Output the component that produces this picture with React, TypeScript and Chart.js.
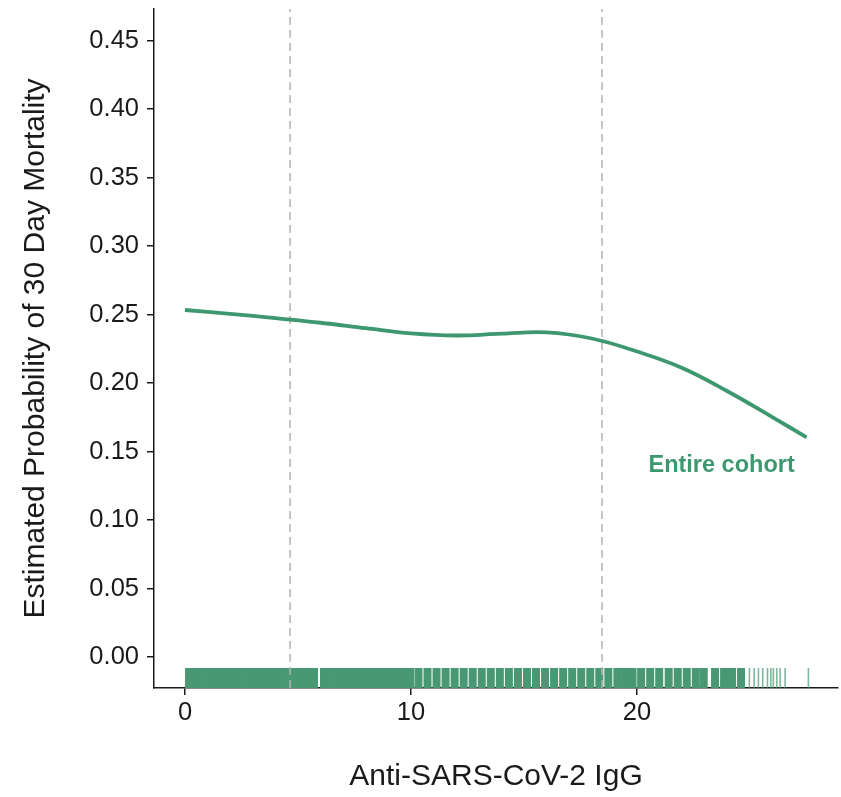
import React, { useEffect, useRef } from "react";
import { Chart, registerables } from "chart.js";
Chart.register(...registerables);

// ---- data ----
const curveX = [0, 2, 4, 6, 8, 10, 12, 14, 16, 18, 20, 22, 24, 26, 27.5];
const curveY = [0.2533, 0.2505, 0.2473, 0.244, 0.24, 0.2362, 0.2347, 0.236, 0.237, 0.2325, 0.223, 0.211, 0.194, 0.175, 0.1604];

const rugDense = [0.18, 0.4, 0.6, 0.8, 1.0, 1.2, 1.4, 1.6, 1.8, 2.0, 2.2, 2.4, 2.6, 2.8, 3.0, 3.2, 3.4, 3.6, 3.8, 4.0, 4.2, 4.4, 4.6, 4.8, 5.0, 5.2, 5.4, 5.6, 5.71,
  6.15, 6.4, 6.6, 6.8, 7.0, 7.2, 7.4, 7.6, 7.8, 8.0, 8.2, 8.4, 8.6, 8.8, 9.0, 9.2, 9.4, 9.6, 9.8, 9.96];
const rugWide = [10.33, 10.73, 11.13, 11.53, 11.93, 12.33, 12.73, 13.13, 13.53, 13.93, 14.33, 14.73, 15.13, 15.53, 15.93, 16.33, 16.73,
  17.13, 17.53, 17.93, 18.33, 18.73, 19.13, 19.47, 19.8, 20.18, 20.58, 20.98, 21.4, 21.8, 22.2, 22.6, 22.95, 23.45, 23.85, 24.2, 24.6];
const rugThin = [24.97, 25.18, 25.37, 25.56, 25.77, 25.92, 26.03, 26.18, 26.33, 26.55, 27.58];
const rugLevel = -0.0153;

const cutpoints = [4.65, 18.45];

const xTicks = [0, 10, 20];
const yTicks = [0, 0.05, 0.1, 0.15, 0.2, 0.25, 0.3, 0.35, 0.4, 0.45];
const xRange = [-1.37, 28.89];
const yRange = [-0.0226, 0.473];

const xTitle = "Anti-SARS-CoV-2 IgG";
const yTitle = "Estimated Probability of 30 Day Mortality";
const labelText = "Entire cohort";
const labelPos = [23.74, 0.1401];

const FONT = '"Liberation Sans", Arial, Helvetica, sans-serif';
const green = "rgb(62,152,111)";
const rugGreen = "rgb(72,152,115)";
const rugGreenLight = "rgba(72,152,115,0.7)";
const ink = "#1a1a1a";

const labelPlugin = {
  id: "cohortLabel",
  afterDatasetsDraw(chart: any) {
    const { ctx, scales } = chart;
    ctx.save();
    ctx.font = `bold 23.5px ${FONT}`;
    ctx.fillStyle = green;
    ctx.textAlign = "center";
    ctx.textBaseline = "middle";
    ctx.fillText(labelText, scales.x.getPixelForValue(labelPos[0]), scales.y.getPixelForValue(labelPos[1]));
    ctx.restore();
  },
};

export default function App() {
  const ref = useRef<HTMLCanvasElement | null>(null);
  useEffect(() => {
    document.body.style.overflow = "hidden";
    document.documentElement.style.overflow = "hidden";
    if (!ref.current) return;
    const rugPts = (arr: number[]) => arr.map((v) => ({ x: v, y: rugLevel }));
    const rugStyle = {
      type: "scatter",
      pointStyle: "line",
      rotation: 90,
      radius: 10,
      hoverRadius: 10,
    };
    const datasets: any[] = [
      { ...rugStyle, data: rugPts(rugDense), borderWidth: 8, borderColor: rugGreen, backgroundColor: rugGreen, order: 5 },
      { ...rugStyle, data: rugPts(rugWide), borderWidth: 8, borderColor: rugGreen, backgroundColor: rugGreen, order: 4 },
      { ...rugStyle, data: rugPts(rugThin), borderWidth: 1.6, borderColor: rugGreenLight, backgroundColor: rugGreenLight, order: 4 },
      ...cutpoints.map((c) => ({
        type: "line",
        data: [
          { x: c, y: yRange[0] },
          { x: c, y: yRange[1] },
        ],
        borderColor: "#b3b3b3",
        borderWidth: 1.5,
        borderDash: [8, 5],
        pointRadius: 0,
        order: 2,
      })),
      {
        type: "line",
        data: curveX.map((x, i) => ({ x, y: curveY[i] })),
        borderColor: green,
        borderWidth: 3.8,
        pointRadius: 0,
        tension: 0.4,
        fill: false,
        order: 1,
      },
    ];

    const chart = new Chart(ref.current, {
      type: "scatter",
      data: { datasets },
      plugins: [labelPlugin],
      options: {
        animation: false,
        responsive: true,
        maintainAspectRatio: false,
        devicePixelRatio: 1,
        layout: { autoPadding: false, padding: { left: 0, top: 9, right: 3, bottom: 0 } },
        plugins: { legend: { display: false }, tooltip: { enabled: false } },
        scales: {
          x: {
            type: "linear",
            min: xRange[0],
            max: xRange[1],
            afterBuildTicks: (s: any) => {
              s.ticks = xTicks.map((v) => ({ value: v }));
            },
            afterFit: (s: any) => {
              s.height = 109;
              s.paddingLeft = 0;
              s.paddingRight = 0;
            },
            border: { display: true, color: ink, width: 1.5 },
            grid: { display: true, drawOnChartArea: false, drawTicks: true, tickLength: 7, color: ink, lineWidth: 1.5 },
            ticks: { color: ink, font: { family: FONT, size: 25.5 }, padding: 3, maxRotation: 0 },
            title: { display: true, text: xTitle, color: ink, font: { family: FONT, size: 30 }, padding: { top: 0, bottom: 2 } },
          },
          y: {
            type: "linear",
            min: yRange[0],
            max: yRange[1],
            afterBuildTicks: (s: any) => {
              s.ticks = yTicks.map((v) => ({ value: v }));
            },
            afterFit: (s: any) => {
              s.width = 154;
              s.paddingTop = 0;
              s.paddingBottom = 0;
            },
            border: { display: true, color: ink, width: 1.5 },
            grid: { display: true, drawOnChartArea: false, drawTicks: true, tickLength: 7, color: ink, lineWidth: 1.5 },
            ticks: {
              color: ink,
              font: { family: FONT, size: 25.5 },
              padding: 8,
              callback: (v: any) => Number(v).toFixed(2),
            },
            title: { display: true, text: yTitle, color: ink, font: { family: FONT, size: 30 }, padding: { top: 18, bottom: 0 } },
          },
        },
      } as any,
    });
    return () => chart.destroy();
  }, []);

  return (
    <div style={{ position: "fixed", left: 0, top: 0, width: 841, height: 797, background: "#fff", overflow: "hidden" }}>
      <canvas ref={ref} style={{ display: "block" }} />
    </div>
  );
}
